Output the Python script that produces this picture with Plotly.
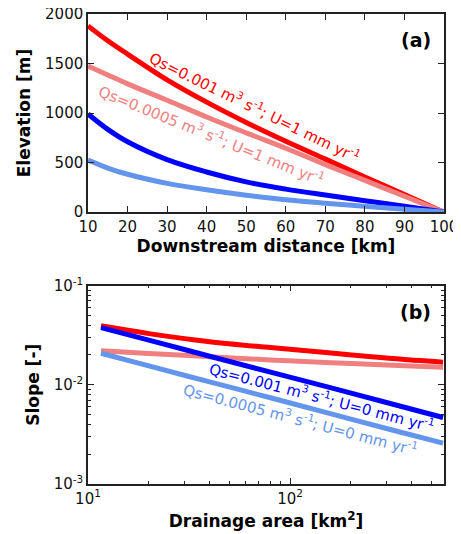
import plotly.graph_objects as go

# ---- Panel (a) data: elevation profiles ----
distance_km = [10, 15, 20, 30, 40, 50, 60, 70, 80, 90, 100]
elev_red = [1880, 1730, 1595, 1335, 1110, 905, 715, 535, 355, 178, 0]       # Qs=0.001, U=1
elev_salmon = [1475, 1385, 1295, 1130, 960, 800, 645, 480, 320, 160, 0]    # Qs=0.0005, U=1
elev_blue = [990, 835, 710, 530, 405, 305, 232, 172, 115, 60, 0]           # Qs=0.001, U=0
elev_lblue = [525, 445, 382, 290, 225, 170, 125, 90, 58, 28, 0]            # Qs=0.0005, U=0

# ---- Panel (b) data: slope-area ----
area_km2 = [11.6, 20, 40, 80, 160, 320, 572]
slope_red = [0.0393, 0.0328, 0.0272, 0.0237, 0.0209, 0.0184, 0.0169]
slope_salmon = [0.0220, 0.0207, 0.0192, 0.0178, 0.0167, 0.0157, 0.0150]
slope_blue = [0.0377, 0.0282, 0.0194, 0.0134, 0.0093, 0.0064, 0.00468]
slope_lblue = [0.0208, 0.0155, 0.0107, 0.0074, 0.0051, 0.0035, 0.00258]

RED = "#FF0000"
SALMON = "#F08080"
BLUE = "#0000FF"
LBLUE = "#6495ED"
LW = 5
FONT = "DejaVu Sans"

fig = go.Figure()
for ys, c in [(elev_red, RED), (elev_salmon, SALMON), (elev_blue, BLUE), (elev_lblue, LBLUE)]:
    fig.add_trace(go.Scatter(x=distance_km, y=ys, mode="lines", line=dict(color=c, width=LW, shape="spline"),
                             xaxis="x", yaxis="y", showlegend=False))
for ys, c in [(slope_red, RED), (slope_salmon, SALMON), (slope_blue, BLUE), (slope_lblue, LBLUE)]:
    fig.add_trace(go.Scatter(x=area_km2, y=ys, mode="lines", line=dict(color=c, width=LW, shape="spline"),
                             xaxis="x2", yaxis="y2", showlegend=False))

# page body has an 8px margin, so the figure is drawn 8px in from the top-left corner
OFF = 8
W, H = 461 - OFF, 534 - OFF
def fx(p):
    return p - OFF
ML, MR, MT, MB = fx(88), W - fx(444), fx(14.3), H - fx(484)
PW = W - ML - MR
PH = H - MT - MB
def dom_y(top_px, bottom_px):
    return [(H - MB - fx(bottom_px)) / PH, (H - MB - fx(top_px)) / PH]
def paper_x(p):
    return (fx(p) - ML) / PW
def paper_y(p):
    return (H - MB - fx(p)) / PH

axis_common = dict(showline=True, linecolor="#222222", linewidth=1.5, mirror="allticks", ticks="inside",
                   ticklen=6, tickcolor="#222222", showgrid=False, zeroline=False, automargin=False,
                   ticklabeloverflow="allow",
                   tickfont=dict(family=FONT, size=15, color="#111111"))

fig.update_layout(
    width=W, height=H, paper_bgcolor="white", plot_bgcolor="white",
    margin=dict(l=ML, r=MR, t=MT, b=MB, autoexpand=False),
    font=dict(family=FONT, color="black"),
    xaxis=dict(domain=[0, 1], range=[10, 100], tickvals=[10, 20, 30, 40, 50, 60, 70, 80, 90, 100],
               anchor="y", title=dict(text="<b>Downstream distance [km]</b>", font=dict(size=17, family=FONT), standoff=5),
               **axis_common),
    yaxis=dict(domain=dom_y(14.3, 212.3), range=[0, 2000], tickvals=[0, 500, 1000, 1500, 2000],
               anchor="x", title=dict(text="<b>Elevation [m]</b>", font=dict(size=17, family=FONT), standoff=10),
               **axis_common),
    xaxis2=dict(domain=[0, 1], type="log", range=[1, 2.762], tickvals=[10, 100],
                ticktext=["10<sup>1</sup>", "10<sup>2</sup>"], anchor="y2",
                minor=dict(ticks="inside", ticklen=3, tickcolor="#222222", dtick="D1", showgrid=False),
                title=dict(text="<b>Drainage area [km<sup>2</sup>]</b>", font=dict(size=17, family=FONT), standoff=8),
                **axis_common),
    yaxis2=dict(domain=dom_y(285.7, 484), type="log", range=[-3, -1], tickvals=[0.001, 0.01, 0.1],
                ticktext=["10<sup>-3</sup>", "10<sup>-2</sup>", "10<sup>-1</sup>"], anchor="x2",
                minor=dict(ticks="inside", ticklen=3, tickcolor="#222222", dtick="D1", showgrid=False),
                title=dict(text="<b>Slope [-]</b>", font=dict(size=17, family=FONT), standoff=10),
                **axis_common),
)

ann = []
ann.append(dict(x=52.2, y=1063, xref="x", yref="y", text="Qs=0.001 m<sup>3</sup> s<sup>-1</sup>; U=1 mm yr<sup>-1</sup>",
                textangle=26, showarrow=False, font=dict(color=RED, size=15, family=FONT)))
ann.append(dict(x=41.3, y=781, xref="x", yref="y", text="Qs=0.0005 m<sup>3</sup> s<sup>-1</sup>; U=1 mm yr<sup>-1</sup>",
                textangle=22, showarrow=False, font=dict(color=SALMON, size=15, family=FONT)))
ann.append(dict(x=2.158, y=-2.122, xref="x2", yref="y2", text="Qs=0.001 m<sup>3</sup> s<sup>-1</sup>; U=0 mm yr<sup>-1</sup>",
                textangle=14.6, showarrow=False, font=dict(color=BLUE, size=15, family=FONT)))
ann.append(dict(x=2.05, y=-2.344, xref="x2", yref="y2", text="Qs=0.0005 m<sup>3</sup> s<sup>-1</sup>; U=0 mm yr<sup>-1</sup>",
                textangle=14.7, showarrow=False, font=dict(color=LBLUE, size=15, family=FONT)))
ann.append(dict(x=paper_x(433), y=paper_y(40), xref="paper", yref="paper", text="<b>(a)</b>", showarrow=False,
                xanchor="right", yanchor="middle", font=dict(size=19, family=FONT, color="black")))
ann.append(dict(x=paper_x(433), y=paper_y(312), xref="paper", yref="paper", text="<b>(b)</b>", showarrow=False,
                xanchor="right", yanchor="middle", font=dict(size=19, family=FONT, color="black")))
fig.update_layout(annotations=ann)

fig.write_html("out.html")
